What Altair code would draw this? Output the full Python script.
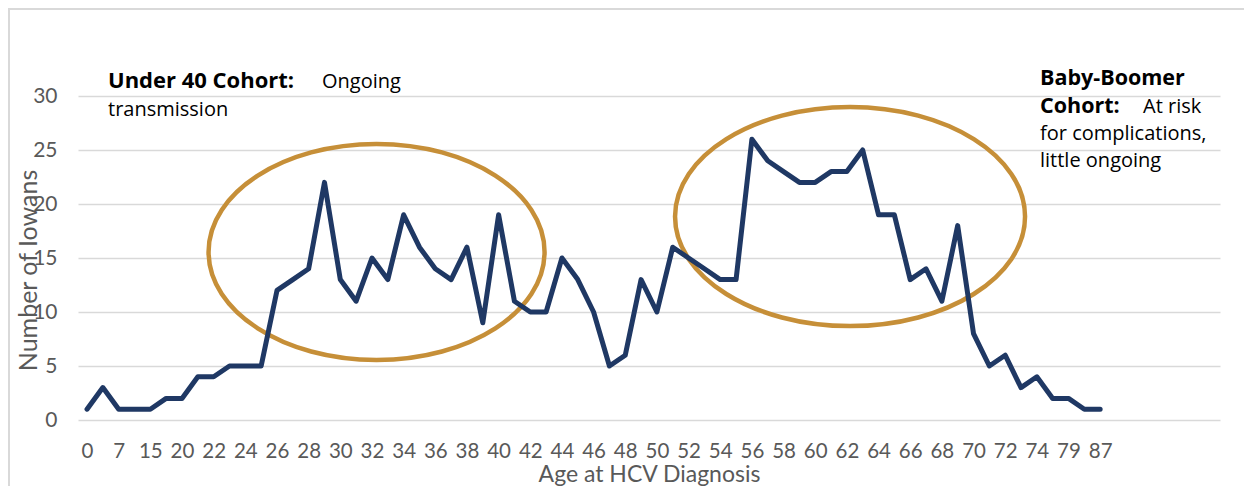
import altair as alt
import pandas as pd

# ---- data ----
ages = [0, 3, 7, 11, 15, 18, 20, 21, 22, 23, 24, 25, 26, 27, 28, 29, 30, 31, 32, 33,
        34, 35, 36, 37, 38, 39, 40, 41, 42, 43, 44, 45, 46, 47, 48, 49, 50, 51, 52, 53,
        54, 55, 56, 57, 58, 59, 60, 61, 62, 63, 64, 65, 66, 67, 68, 69, 70, 71, 72, 73,
        74, 77, 79, 83, 87]
counts = [1, 3, 1, 1, 1, 2, 2, 4, 4, 5, 5, 5, 12, 13, 14, 22, 13, 11, 15, 13,
          19, 16, 14, 13, 16, 9, 19, 11, 10, 10, 15, 13, 10, 5, 6, 13, 10, 16, 15, 14,
          13, 13, 26, 24, 23, 22, 22, 23, 23, 25, 19, 19, 13, 14, 11, 18, 8, 5, 6, 3,
          4, 2, 2, 1, 1]
y_ticks = [0, 5, 10, 15, 20, 25, 30]

# highlighted cohorts (centre in data coordinates)
cohort_x = [18.29, 48.2]
cohort_y = [15.56, 18.84]

df = pd.DataFrame({"idx": list(range(len(ages))), "age": ages, "count": counts})
label_idx = list(range(0, len(ages), 2))
label_js = "[" + ",".join("'%d'" % a for a in ages) + "][datum.value]"

NAVY = "#1F3864"
GOLD = "#C68F38"
GREY = "#595959"
FONT = "Lato"
AFONT = "Open Sans"
W, H = 1142, 324

xscale = alt.Scale(domain=[-0.57, 71.57], nice=False, zero=False)
yscale = alt.Scale(domain=[0, 30], nice=False)

line = alt.Chart(df).mark_line(color=NAVY, strokeWidth=5, strokeJoin="round", strokeCap="round").encode(
    x=alt.X("idx:Q", scale=xscale,
            axis=alt.Axis(values=label_idx, tickCount=200, labelExpr=label_js, grid=False,
                          ticks=False, tickSize=0, domain=False, labelPadding=37,
                          labelBaseline="alphabetic", labelOverlap=False, labelFlush=False,
                          labelFontSize=20.5, labelColor=GREY, labelFont=FONT,
                          title="Age at HCV Diagnosis", titleFontSize=23, titleColor=GREY,
                          titleFont=FONT, titleFontWeight="normal", titleY=61.5,
                          titleBaseline="alphabetic")),
    y=alt.Y("count:Q", scale=yscale,
            axis=alt.Axis(values=y_ticks, grid=True, gridColor="#D9D9D9", gridWidth=1.5,
                          ticks=False, tickSize=0, domain=False, labelPadding=21,
                          labelFontSize=21, labelColor=GREY, labelFont=FONT,
                          title="Number of Iowans", titleFontSize=25, titleColor=GREY,
                          titleFont=FONT, titleFontWeight="normal", titleAngle=270,
                          titleX=-50, titleY=174, titleAlign="center", titleBaseline="middle")),
)

def ellipse(i, ratio, size):
    d = pd.DataFrame({"cx": [cohort_x[i]], "cy": [cohort_y[i]]})
    shape = "M -1 0 A 1 %.3f 0 1 1 1 0 A 1 %.3f 0 1 1 -1 0 Z" % (ratio, ratio)
    return alt.Chart(d).mark_point(shape=shape, filled=False, stroke=GOLD, strokeWidth=4.5,
                                   opacity=1, size=size).encode(
        x=alt.X("cx:Q", scale=xscale), y=alt.Y("cy:Q", scale=yscale))

e1 = ellipse(0, 0.643, 336 ** 2)
e2 = ellipse(1, 0.626, 350 ** 2)

one = pd.DataFrame({"a": [0]})

def txt(s, x, y, bold=False, size=None):
    if size is None:
        size = 22 if bold else 20
    return alt.Chart(one).mark_text(text=s, align="left", baseline="alphabetic", font=AFONT,
                                    fontSize=size, fontWeight="bold" if bold else "normal",
                                    color="#000000").encode(x=alt.value(x), y=alt.value(y))

texts = [
    txt("Under 40 Cohort:", 30, -8, True),
    txt("Ongoing", 244, -8),
    txt("transmission", 30, 20),
    txt("Baby-Boomer", 962, -11, True, 21.5),
    txt("Cohort:", 962, 17, True, 21.5),
    txt("At risk", 1065, 17),
    txt("for  complications,", 962, 44),
    txt("little  ongoing", 962, 71),
]

frame = alt.Chart(one).mark_rect(fillOpacity=0, stroke="#D9D9D9", strokeWidth=2).encode(
    x=alt.value(-69), x2=alt.value(1400), y=alt.value(-87), y2=alt.value(600))

chart = alt.layer(frame, e1, e2, line, *texts).properties(
    width=W, height=H, autosize="none",
    padding={"left": 70, "top": 88, "right": 24, "bottom": 66},
).configure_view(strokeWidth=0)

chart.save("out.html", embed_options={"renderer": "svg", "actions": False})
